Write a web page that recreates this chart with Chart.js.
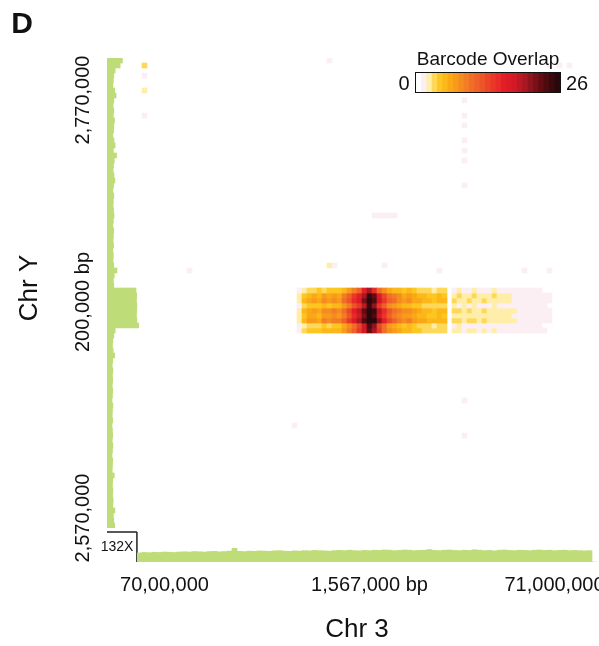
<!DOCTYPE html>
<html>
<head>
<meta charset="UTF-8">
<title>Barcode Overlap - Chr 3 vs Chr Y</title>
<script src="https://cdn.jsdelivr.net/npm/chart.js@4.4.0/dist/chart.umd.min.js"></script>
<style>
  body { margin: 0; background: #fff; }
  #wrap { position: relative; width: 599px; height: 646px; overflow: hidden; }
  canvas { position: absolute; }
  #heat { left: 0; top: 0; }
  #covY { left: 107px; top: 58px; }
  #covX { left: 137px; top: 522px; }
  #bar { left: 416px; top: 73px; outline: 1px solid #111; }
</style>
</head>
<body>
<div id="wrap">
  <canvas id="heat" width="599" height="646"></canvas>
  <canvas id="covY" width="34" height="470"></canvas>
  <canvas id="covX" width="460" height="40"></canvas>
  <canvas id="bar" width="144" height="19"></canvas>
</div>
<script>
// tick labels
const xTickLabels = ['70,00,000', '1,567,000 bp', '71,000,000'];
const xTickBins = [5, 46, 83];
const yTickLabels = ['2,770,000', '200,000 bp', '2,570,000'];
const yTickBins = [8.4, 48.8, 92];   // bins counted from the top

// barcode overlap in the Chr Y 200,000 bp band (rows top->bottom, bins 32..82 of Chr 3)
const bandStartBin = 32;
const bandStartRow = 46;
const band = [
  [1,2,3,3,4,3,4,4,4,5, 7,9,11,16,20,15,10,8,6,5, 5,4,5,4,3,3,3,2,3,3, 0,1,2,1,1,2,1,1,1,2, 1,1,1,1,1,1,1,1,1,0, 0],
  [2,4,5,6,5,7,6,7,6,9, 11,14,16,20,25,23,17,13,10,9, 8,6,7,6,5,5,4,4,5,4, 0,2,3,2,2,3,2,2,2,3, 2,2,2,1,1,1,1,1,1,1, 1],
  [2,5,6,7,6,8,7,8,7,10, 12,15,17,22,26,24,18,14,11,10, 8,7,8,6,6,5,5,4,5,5, 0,3,2,2,3,2,2,3,2,2, 2,2,2,1,1,1,1,1,1,1, 1],
  [1,3,4,4,4,5,4,5,5,7, 9,12,14,19,25,21,14,11,8,7, 6,5,5,4,4,3,3,3,3,3, 0,2,1,2,1,2,1,1,1,2, 1,1,1,1,1,1,1,1,1,1, 0],
  [2,5,6,7,6,8,8,9,8,10, 13,16,19,23,26,25,19,15,12,10, 9,8,8,7,6,5,5,4,5,5, 0,3,3,2,3,2,2,3,2,2, 2,2,2,2,1,1,1,1,1,1, 1],
  [2,4,6,6,5,7,7,8,7,9, 12,15,18,22,26,24,18,14,11,9, 8,7,7,6,5,5,4,4,5,4, 0,2,2,2,2,2,2,2,2,2, 2,2,2,1,1,1,1,1,1,1, 1],
  [2,5,7,7,6,9,8,9,9,11, 14,17,20,24,26,26,21,16,13,11, 9,8,9,7,6,6,5,5,5,5, 0,3,3,2,3,3,2,3,2,2, 2,2,2,2,1,1,1,1,1,1, 1],
  [1,2,3,3,3,4,3,4,4,6, 8,10,13,18,24,21,13,10,7,6, 5,4,5,4,3,3,3,2,3,3, 0,1,2,1,1,1,1,1,1,1, 1,1,1,1,1,1,1,1,1,0, 0],
  [1,3,4,4,4,5,5,5,5,7, 9,11,14,18,23,20,14,10,8,7, 6,5,5,4,4,3,3,3,3,3, 0,2,2,1,2,2,1,2,1,2, 1,1,1,1,1,1,1,1,1,1, 0]
];

// sparse background overlap: [chr3 bin, chrY row, value]
const speckles = [
  [1,1,3],[1,3,1],[1,6,2],[1,11,1],[38,0,1],[82,1,1],[84,1,1],[86,1,1],
  [65,8,1],[65,11,1],[65,13,1],[65,16,1],[65,18,1],[65,20,1],[65,25,1],
  [47,31,1],[48,31,1],[49,31,1],[50,31,1],[51,31,1],
  [38,41,2],[39,41,1],[49,41,1],[10,42,1],[60,42,1],[77,42,1],[82,42,1],
  [31,73,1],[65,68,1],[65,75,1]
];

// read coverage (X) along Chr Y, top->bottom
const coverageY = [
  68,58, 36,30,28,26,34,40,30,27,
  30,28,33,30,29,26,31,36,28,42,
  32,29,27,31,35,29,26,30,28,27,
  29,31,28,26,30,28,27,29,26,28,
  27,30,44,32,28,30, 128,131,130,132,131,130,132,140,
  36, 30,26,24,27,34,25,23,26,24,25,
  23,25,24,22,26,24,23,25,22,24,
  25,23,26,24,22,25,24,23,32,25,
  24,26,25,27,26,35,28,30,34
];

// read coverage (X) along Chr 3, left->right
const coverageX = [
  40,42,41,43,42,44,43,42,44,45, 44,46,45,44,46,47,45,46,48,60,
  47,46,48,47,49,48,47,49,50,48, 47,49,48,50,49,51,50,49,48,50,
  51,50,52,50,49,51,50,52,51,53, 52,50,51,53,52,50,51,52,55,51,
  50,52,53,51,50,52,51,54,52,50, 51,49,52,53,51,50,52,51,50,52,
  53,51,52,50,51,52,50,51,50,49, 50,0
];

const scaleBarX = 132;
const legendValues = [0,1,2,3,4,5,6,7,8,9,10,11,12,13,14,15,16,17,18,19,20,21,22,23,24,25,26];

const nCols = 92, nRows = 98;
const green = '#bedc78';
const font = '"Liberation Sans", Arial, sans-serif';

const stops = [
  [0, [255,255,255]], [1, [252,239,244]], [2, [255,238,170]], [3, [254,216,88]],
  [4, [253,198,32]], [6, [250,168,22]], [8, [245,140,32]], [10, [240,110,40]],
  [12, [237,84,40]], [14, [234,56,40]], [16, [227,30,40]], [18, [210,25,38]],
  [20, [168,24,34]], [22, [120,16,24]], [24, [78,10,14]], [26, [40,8,10]]
];
function cmap(v) {
  for (let i = 1; i < stops.length; i++) {
    if (v <= stops[i][0]) {
      const [a, ca] = stops[i - 1], [b, cb] = stops[i];
      const t = (v - a) / (b - a);
      const c = ca.map((x, k) => Math.round(x + (cb[k] - x) * t));
      return `rgb(${c[0]},${c[1]},${c[2]})`;
    }
  }
  return 'rgb(40,8,10)';
}

// collect cells per row
const cells = {};
band.forEach((vals, i) => {
  const r = bandStartRow + i;
  cells[r] = cells[r] || {};
  vals.forEach((v, j) => { if (v > 0) cells[r][bandStartBin + j] = v; });
});
speckles.forEach(([c, r, v]) => { cells[r] = cells[r] || {}; cells[r][c] = v; });

const heatSets = Object.keys(cells).map(k => {
  const r = +k;
  const data = [], colors = [];
  for (let c = 0; c < nCols; c++) {
    const v = cells[r][c];
    data.push(v ? [nRows - r - 1, nRows - r] : null);
    colors.push(v ? cmap(v) : 'rgba(0,0,0,0)');
  }
  return { data, backgroundColor: colors, grouped: false, barPercentage: 1, categoryPercentage: 1, borderWidth: 0 };
});

const quiet = { legend: { display: false }, tooltip: { enabled: false } };

const covYChart = new Chart(document.getElementById('covY'), {
  type: 'bar',
  data: { labels: coverageY.map((_, i) => i), datasets: [{ data: coverageY, backgroundColor: green, barPercentage: 1, categoryPercentage: 1 }] },
  options: {
    indexAxis: 'y', responsive: false, animation: false, plugins: quiet,
    scales: { x: { display: false, min: 0, max: 150 }, y: { display: false } }
  }
});

const covXChart = new Chart(document.getElementById('covX'), {
  type: 'bar',
  data: { labels: coverageX.map((_, i) => i), datasets: [{ data: coverageX, backgroundColor: green, barPercentage: 1, categoryPercentage: 1 }] },
  options: {
    responsive: false, animation: false, plugins: quiet,
    scales: { x: { display: false }, y: { display: false, min: 0, max: 176 } }
  }
});

new Chart(document.getElementById('bar'), {
  type: 'bar',
  data: { labels: legendValues, datasets: [{ data: legendValues.map(() => 1), backgroundColor: legendValues.map(cmap), barPercentage: 1, categoryPercentage: 1 }] },
  options: {
    responsive: false, animation: false, plugins: quiet,
    scales: { x: { display: false }, y: { display: false, min: 0, max: 1 } }
  }
});

const textPlugin = {
  id: 'texts',
  afterDraw(chart) {
    const { ctx, scales: { x, y } } = chart;
    ctx.save();
    ctx.fillStyle = '#111';
    ctx.textAlign = 'center';
    ctx.textBaseline = 'middle';
    ctx.font = '20px ' + font;
    xTickLabels.forEach((t, i) => ctx.fillText(t, x.getPixelForValue(xTickBins[i]), 585));
    yTickLabels.forEach((t, i) => {
      ctx.save();
      ctx.translate(83, y.getPixelForValue(nRows - yTickBins[i]));
      ctx.rotate(-Math.PI / 2);
      ctx.fillText(t, 0, 0);
      ctx.restore();
    });
    ctx.font = '26px ' + font;
    ctx.fillText('Chr 3', 357, 630);
    ctx.save();
    ctx.translate(30, 288);
    ctx.rotate(-Math.PI / 2);
    ctx.fillText('Chr Y', 0, 0);
    ctx.restore();
    ctx.font = 'bold 30px ' + font;
    ctx.fillText('D', 22, 25);
    // legend texts
    ctx.font = '19px ' + font;
    ctx.textBaseline = 'alphabetic';
    ctx.fillText('Barcode Overlap', 488, 65);
    ctx.textBaseline = 'middle';
    ctx.font = '20px ' + font;
    ctx.fillText('0', 404, 84);
    ctx.fillText('26', 577, 84);
    // coverage scale bar
    const sx = covYChart.scales.x, sy = covXChart.scales.y;
    const len = sx.getPixelForValue(scaleBarX) - sx.getPixelForValue(0);
    const hLen = sy.getPixelForValue(0) - sy.getPixelForValue(scaleBarX);
    ctx.strokeStyle = '#222';
    ctx.lineWidth = 1.5;
    ctx.beginPath();
    ctx.moveTo(107, 532); ctx.lineTo(107 + len, 532);
    ctx.moveTo(107 + len, 532); ctx.lineTo(107 + len, 532 + hLen);
    ctx.stroke();
    ctx.font = '14px ' + font;
    ctx.fillText(scaleBarX + 'X', 117, 547);
    ctx.restore();
  }
};

new Chart(document.getElementById('heat'), {
  type: 'bar',
  data: { labels: Array.from({ length: nCols }, (_, i) => i), datasets: heatSets },
  options: {
    responsive: false, animation: false, plugins: quiet,
    layout: { padding: { left: 137, top: 58, right: 2, bottom: 98 } },
    scales: { x: { display: false }, y: { display: false, min: 0, max: nRows } }
  },
  plugins: [textPlugin]
});
</script>
</body>
</html>
